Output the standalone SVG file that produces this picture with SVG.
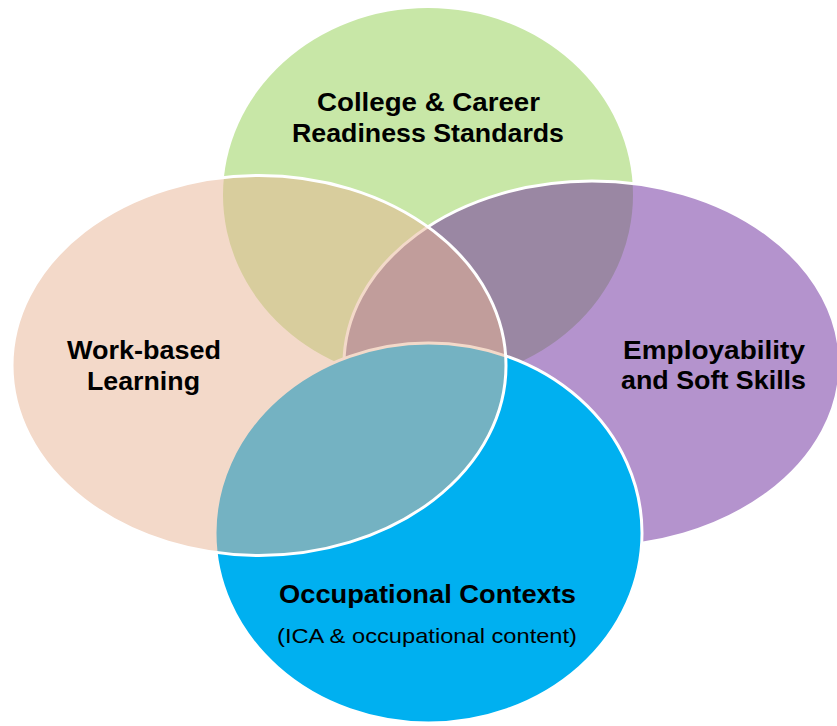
<svg xmlns="http://www.w3.org/2000/svg" width="837" height="726" viewBox="0 0 837 726">
<style>
.t{font-family:"Liberation Sans",Arial,sans-serif;font-weight:bold;font-size:26px;fill:#000;text-anchor:middle}
.s{font-family:"Liberation Sans",Arial,sans-serif;font-size:21px;fill:#000;text-anchor:middle}
.ol{stroke:#fff;stroke-width:3}
</style>
<rect width="837" height="726" fill="#fff"/>
<g id="college-career">
<ellipse cx="428" cy="195" rx="205" ry="187" fill="#C8E7A7"/>
<text class="t" x="428.5" y="111" textLength="223" lengthAdjust="spacingAndGlyphs">College &amp; Career</text>
<text class="t" x="428" y="142" textLength="272" lengthAdjust="spacingAndGlyphs">Readiness Standards</text>
</g>
<g id="employability">
<ellipse class="ol" cx="592" cy="364" rx="248" ry="183" fill="#7030A0" fill-opacity="0.52"/>
<text class="t" x="714" y="359" textLength="182" lengthAdjust="spacingAndGlyphs">Employability</text>
<text class="t" x="713.5" y="389" textLength="185" lengthAdjust="spacingAndGlyphs">and Soft Skills</text>
</g>
<g id="occupational">
<ellipse class="ol" cx="428.5" cy="533" rx="213.5" ry="190" fill="#00B0F0"/>
<text class="t" x="427.5" y="603" textLength="297" lengthAdjust="spacingAndGlyphs">Occupational Contexts</text>
<text class="s" x="427" y="643" textLength="300" lengthAdjust="spacingAndGlyphs">(ICA &amp; occupational content)</text>
</g>
<g id="work-based">
<ellipse cx="259" cy="365.5" rx="247" ry="190" fill="#E7B393" fill-opacity="0.5"/>
<ellipse cx="259" cy="365.5" rx="247" ry="190" fill="none" class="ol"/>
<text class="t" x="144" y="359" textLength="154" lengthAdjust="spacingAndGlyphs">Work-based</text>
<text class="t" x="143.5" y="390" textLength="113" lengthAdjust="spacingAndGlyphs">Learning</text>
</g>
<g id="connectors"/>
</svg>
